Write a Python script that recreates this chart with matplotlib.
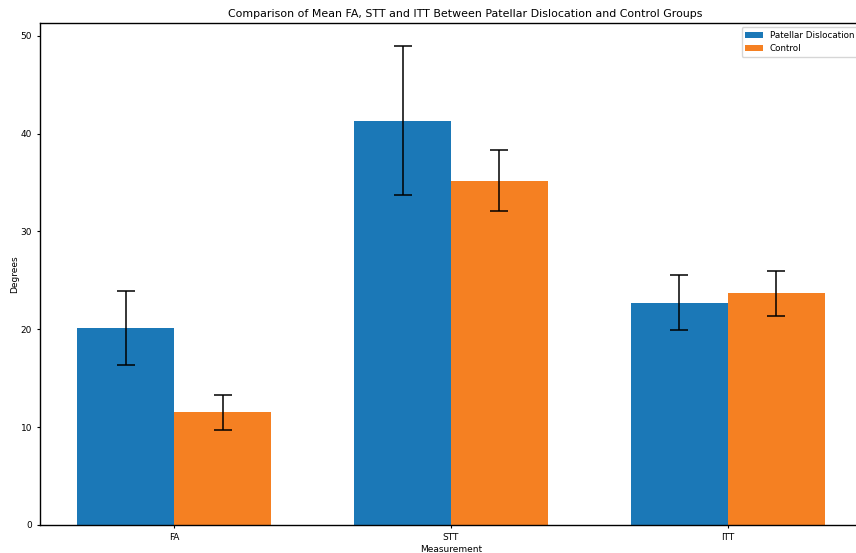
import matplotlib.pyplot as plt
import numpy as np

# measurements and group stats (degrees)
measurements = ['FA', 'STT', 'ITT']
pd_mean = [20.1, 41.3, 22.7]
pd_sd = [3.8, 7.6, 2.8]
ctrl_mean = [11.5, 35.2, 23.7]
ctrl_sd = [1.8, 3.1, 2.3]

s = 0.65  # shrink factor of the original figure
plt.rcParams['font.size'] = 10 * s
plt.rcParams['axes.linewidth'] = 1.0
plt.rcParams['xtick.major.width'] = 0.8
plt.rcParams['ytick.major.width'] = 0.8
plt.rcParams['xtick.major.size'] = 3.5 * s
plt.rcParams['ytick.major.size'] = 3.5 * s

fig = plt.figure(figsize=(8.56, 5.53), dpi=100)
ax = fig.add_axes([40 / 856, 28 / 553, 822 / 856, 502 / 553])

x = np.arange(len(measurements))
w = 0.35
ekw = dict(elinewidth=1.1, capthick=1.1)
ax.bar(x - w / 2, pd_mean, w, yerr=pd_sd, capsize=6.4, color='#1b78b7',
       label='Patellar Dislocation', error_kw=ekw)
ax.bar(x + w / 2, ctrl_mean, w, yerr=ctrl_sd, capsize=6.4, color='#f58022',
       label='Control', error_kw=ekw)

ax.set_xticks(x)
ax.set_xticklabels(measurements)
ax.set_ylim(0, 51.3)
ax.set_xlabel('Measurement', labelpad=2)
ax.set_ylabel('Degrees', labelpad=1)
# original was cropped on the right, so title sits a bit right of centre
ax.set_title('Comparison of Mean FA, STT and ITT Between Patellar Dislocation and Control Groups',
             fontsize=7.9, pad=4, x=0.517)
ax.legend(loc='upper right', fontsize=6.3)

fig.savefig('out.png', dpi=100)
